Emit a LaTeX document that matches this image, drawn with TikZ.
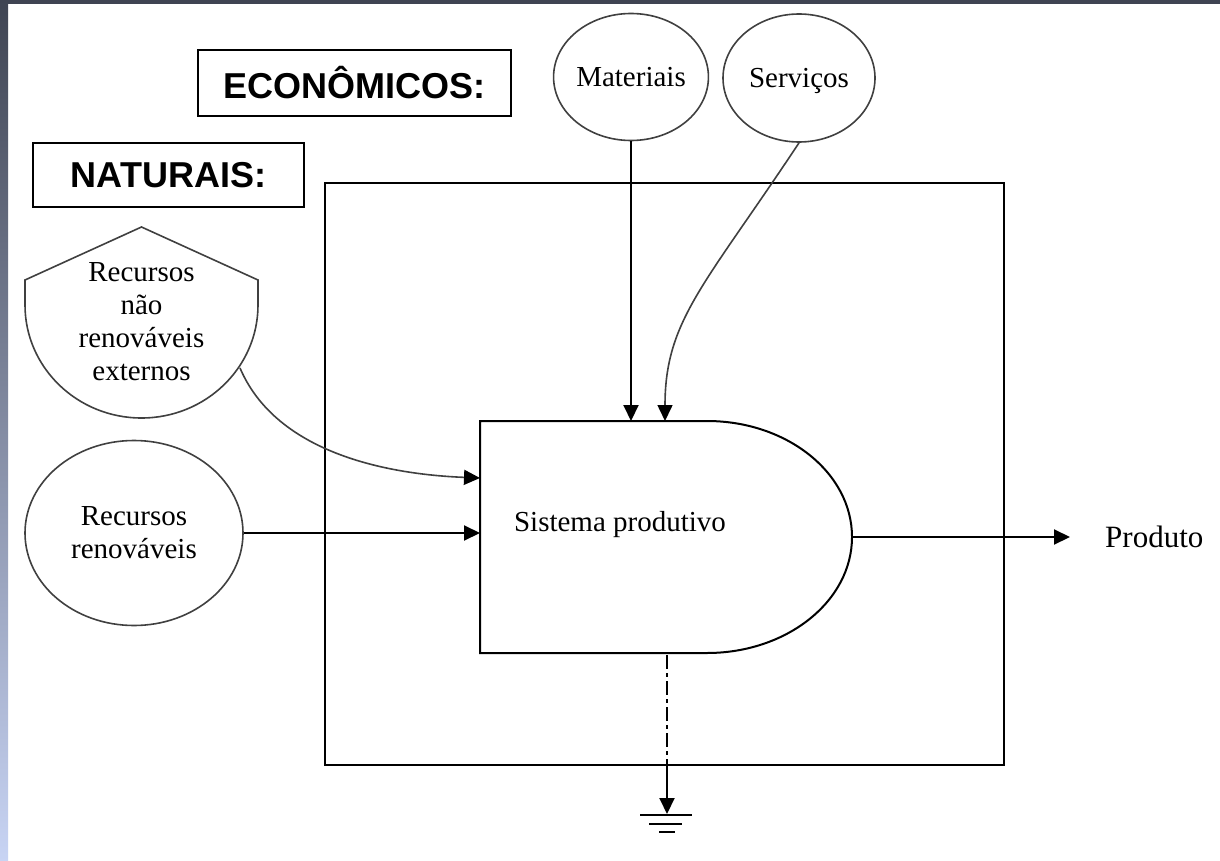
\documentclass[tikz,border=0pt]{standalone}
\usepackage{fontspec}
\setmainfont{Liberation Serif}
\newfontfamily\arialf{Liberation Sans}
\usetikzlibrary{shapes.geometric,arrows.meta}
\definecolor{barc}{HTML}{3F4452}
\definecolor{barmid}{HTML}{A8B8E0}
\definecolor{barlow}{HTML}{C8D4F4}
\begin{document}
\begin{tikzpicture}[x=1pt,y=-1pt,
  thickline/.style={line width=2pt, draw=black},
  thinline/.style={line width=1.6pt, draw=black!75},
  arr/.style={-{Triangle[length=16pt,width=15pt,black]}},
  lbl/.style={font=\fontsize{29}{33}\selectfont, align=center, inner sep=0pt},
  capbox/.style={draw, line width=2pt, font=\arialf\bfseries\fontsize{36}{40}\selectfont, inner sep=0pt},
  oval/.style={draw=black!75, line width=1.6pt, ellipse, inner sep=0pt, font=\fontsize{29}{33}\selectfont, align=center}]
\useasboundingbox (0,0) rectangle (1220,861);
\fill[white] (0,0) rectangle (1220,861);
% page frame bars
\fill[barc] (0,0) rectangle (1220,4);
\shade[top color=barc, middle color=barmid, bottom color=barlow] (0,0) rectangle (8,861);

% title boxes
\node[capbox, minimum width=313pt, minimum height=66pt] (econ) at (354.5,83) {ECONÔMICOS:};
\node[capbox, minimum width=271pt, minimum height=64pt] (natu) at (168.5,175) {NATURAIS:};

% main system boundary
\draw[thickline] (325,183) rectangle (1004,765);
\coordinate (rectS) at (667,765);

% productive system (D shape)
\draw[thickline] (707,421) -- (480,421) -- (480,653) -- (707,653)
  arc[start angle=90, end angle=-90, x radius=145, y radius=116];
\node[lbl] (sys) at (620,525) {Sistema produtivo};
\coordinate (sysW1) at (480,478);
\coordinate (sysW2) at (480,533);
\coordinate (sysN1) at (631,421);
\coordinate (sysN2) at (665,421);
\coordinate (sysE) at (852,537);
\coordinate (sysS) at (667,655);

% economic inputs
\node[oval, minimum width=152pt, minimum height=127pt, text height=19pt, text depth=0pt] (mat) at (631,77) {Materiais};
\node[oval, minimum width=152pt, minimum height=128pt, text height=19pt, text depth=0pt] (serv) at (799,78) {Serviços};
\draw[thickline, arr] (mat.south) -- (sysN1);
\draw[thinline, arr] (serv.south) .. controls (705,285) and (665,320) .. (sysN2);

% natural inputs
\draw[thinline] (258,305) -- (258,280) -- (141.5,227) -- (25,280) -- (25,305)
  arc[start angle=180, end angle=0, x radius=116.5, y radius=113];
\node[lbl] (nren) at (141.5,322) {Recursos\\não\\renováveis\\externos};
\coordinate (nrenOut) at (240,368);
\draw[thinline, arr] (nrenOut) .. controls (275,450) and (380,474) .. (sysW1);

\node[oval, minimum width=218pt, minimum height=185pt] (ren) at (134,533) {Recursos\\renováveis};
\draw[thickline, arr] (ren.east) -- (sysW2);

% output
\node[font=\fontsize{31}{35}\selectfont, anchor=base west, inner sep=0pt] (prod) at (1105,547) {Produto};
\draw[thickline, arr, shorten >=35pt] (sysE) -- (sysE -| prod.west);

% heat sink
\draw[thickline, dash pattern=on 14pt off 4pt on 4pt off 4pt] (sysS) -- (rectS);
\coordinate (gnd) at (667,814);
\draw[thickline, arr] (rectS) -- (gnd);
\coordinate (g1l) at (640,815); \coordinate (g1r) at (692,815);
\coordinate (g2l) at (649,824); \coordinate (g2r) at (682,824);
\coordinate (g3l) at (659,832); \coordinate (g3r) at (675,832);
\draw[thickline] (g1l) -- (g1r);
\draw[thickline] (g2l) -- (g2r);
\draw[thickline] (g3l) -- (g3r);
\end{tikzpicture}
\end{document}
